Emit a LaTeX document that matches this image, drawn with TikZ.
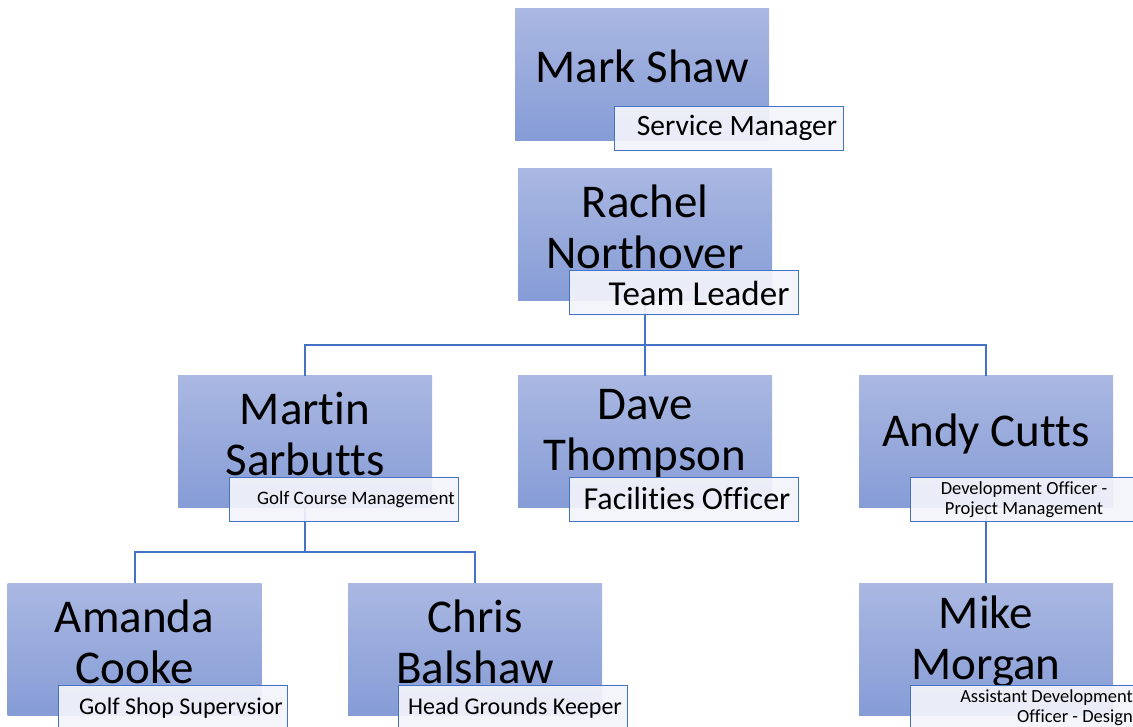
\documentclass[tikz,border=0pt]{standalone}
\usepackage{fontspec}
\setmainfont{Carlito}[Ligatures=NoCommon]
\definecolor{boxtop}{RGB}{170,184,226}
\definecolor{boxbot}{RGB}{134,156,214}
\definecolor{edge}{RGB}{68,114,196}
\definecolor{labfill}{RGB}{243,244,250}
\tikzset{
  person/.style={rectangle, minimum width=254pt, minimum height=132pt, inner sep=0pt, outer sep=0pt,
    top color=boxtop, bottom color=boxbot, draw=none},
  nametext/.style={align=center, inner sep=0pt, font=\fontsize{47}{51}\selectfont},
  rolebox/.style={rectangle, minimum width=229pt, minimum height=44pt, inner sep=0pt, outer sep=0pt,
    draw=edge, line width=1pt, fill=labfill, fill opacity=0.92},
  roletext/.style={align=center, inner sep=0pt},
  conn/.style={draw=edge, line width=2pt},
}
\begin{document}
\begin{tikzpicture}[x=1pt,y=-1pt]
\useasboundingbox (0,0) rectangle (1133,726);
\clip (0,0) rectangle (1133,726);
% boxes
\node[person] (mark) at (642,74) {};
\node[person] (rachel) at (645,234) {};
\node[person] (martin) at (305,441.5) {};
\node[person] (dave) at (645,441.5) {};
\node[person] (andy) at (986,441.5) {};
\node[person] (amanda) at (134.5,649) {};
\node[person] (chris) at (475,649) {};
\node[person] (mike) at (986,649) {};
% connectors
\coordinate (j1) at (645,345);
\coordinate (j2) at (305,552);
\draw[conn] (rachel.south) -- (j1);
\draw[conn] (j1) -| (martin.north);
\draw[conn] (j1) -- (dave.north);
\draw[conn] (j1) -| (andy.north);
\draw[conn] (martin.south) -- (j2);
\draw[conn] (j2) -| (amanda.north);
\draw[conn] (j2) -| (chris.north);
\draw[conn] (andy.south) -- (mike.north);
% names
\node[nametext] (markT) at (642,66) {Mark Shaw};
\node[nametext] (rachelT) at (645,227) {Rachel\\Northover};
\node[nametext] (martinT) at (305,434) {Martin\\Sarbutts};
\node[nametext] (daveT) at (645,434) {Dave\\Thompson};
\node[nametext] (andyT) at (986,434) {Andy Cutts};
\node[nametext] (amandaT) at (134.5,642) {Amanda\\Cooke};
\node[nametext] (chrisT) at (475,642) {Chris\\Balshaw};
\node[nametext] (mikeT) at (986,642) {Mike\\Morgan};
% role boxes
\node[rolebox] (markR) at (728.5,128) {};
\node[rolebox] (rachelR) at (683.5,292) {};
\node[rolebox] (martinR) at (343.5,499) {};
\node[rolebox] (daveR) at (683.5,499) {};
\node[rolebox] (andyR) at (1024.5,499) {};
\node[rolebox] (amandaR) at (173,707) {};
\node[rolebox] (chrisR) at (513,707) {};
\node[rolebox] (mikeR) at (1024.5,707) {};
% role texts
\node[roletext, font=\fontsize{29.5}{34}\selectfont] at (737,128) {Service Manager};
\node[roletext, font=\fontsize{35}{40}\selectfont] at (699,293) {Team Leader};
\node[roletext, font=\fontsize{19}{22}\selectfont] at (356,500) {Golf Course Management};
\node[roletext, font=\fontsize{32}{36}\selectfont] at (687,499) {Facilities Officer};
\node[roletext, font=\fontsize{18.5}{20}\selectfont] at (1024,500) {Development Officer -\\Project Management};
\node[roletext, font=\fontsize{24}{28}\selectfont] at (181,708) {Golf Shop Supervsior};
\node[roletext, font=\fontsize{24}{28}\selectfont] at (515,708) {Head Grounds Keeper};
\node[roletext, align=right, anchor=east, font=\fontsize{18.5}{20}\selectfont] at (1133,708) {Assistant Development\\Officer - Design};
\end{tikzpicture}
\end{document}
